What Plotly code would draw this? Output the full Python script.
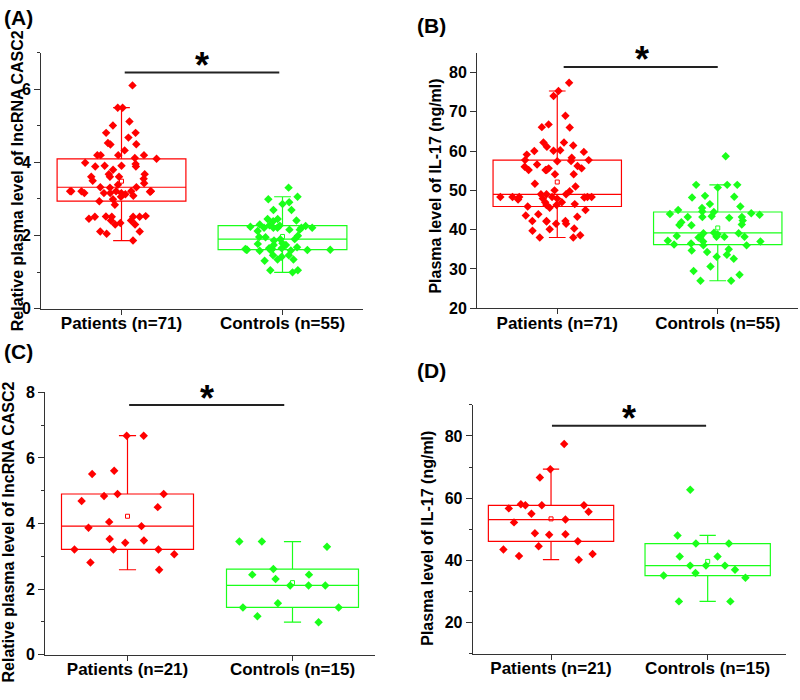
import numpy as np
import plotly.graph_objects as go

# ---------------- data ----------------
cats_AB = ["Patients (n=71)", "Controls (n=55)"]
cats_CD = ["Patients (n=21)", "Controls (n=15)"]

casc2_patients_A = [6.11, 5.50, 5.50, 5.12, 5.01, 4.81, 4.81, 4.68, 4.53, 4.50,
                    4.49, 4.33, 4.20, 4.20, 4.20, 4.20, 4.10, 4.12, 3.96, 3.91,
                    3.91, 3.99, 3.89, 3.80, 3.89, 3.68, 3.61, 3.55, 3.50, 3.61,
                    3.61, 3.68, 3.43, 3.39, 3.06, 3.21, 3.21, 3.13, 3.21, 3.16,
                    3.16, 3.16, 3.21, 3.16, 3.32, 3.21, 3.21, 3.21, 3.32, 3.09,
                    3.31, 2.99, 2.84, 2.94, 2.51, 2.52, 2.51, 2.53, 2.51, 2.51,
                    2.46, 2.41, 2.41, 2.34, 2.30, 2.30, 2.05, 2.11, 2.11, 1.86,
                    3.20]
casc2_controls_A = [3.31, 3.06, 2.99, 2.91, 2.86, 2.70, 2.70, 2.45, 2.45,
                    2.41, 2.39, 2.30, 2.28, 2.27, 2.26, 2.24, 2.21, 2.21, 2.21,
                    2.21, 2.21, 2.16, 2.16, 2.12,
                    1.99, 1.96, 1.95, 1.90, 1.90, 1.86, 1.79, 1.77,
                    1.74, 1.68, 1.65, 1.63, 1.61, 1.61, 1.61, 1.59, 1.59, 1.58,
                    1.63, 1.65, 1.74, 1.60,
                    1.46, 1.46, 1.42, 1.34, 1.34, 1.31,
                    1.05, 1.05, 0.99]
il17_patients_B = [77.4, 75.3, 74.0, 69.0, 66.8, 66.1, 66.0, 62.2, 62.2, 61.4,
                   61.1, 60.1, 59.1, 59.8, 60.0, 60.2,
                   57.4, 57.7, 57.7, 57.5, 58.3,
                   55.6, 56.0, 55.2, 55.2, 56.2, 55.2, 55.6, 56.6,
                   54.1, 54.1, 51.0, 51.7, 50.0,
                   49.8, 48.2, 49.0, 49.0, 47.0, 47.9, 46.3, 45.9,
                   47.9, 47.7, 46.5, 48.3, 48.3, 48.3, 48.3, 48.3, 48.3, 49.0,
                   45.0, 46.3, 47.0, 45.6, 43.6, 43.9, 43.3,
                   42.2, 42.2, 42.2, 41.5, 42.1, 41.5, 40.3,
                   38.6, 40.1, 38.0, 39.7, 38.0]
il17_controls_B = [58.7, 51.4, 50.7, 51.4, 51.4, 48.2, 48.4, 48.6, 46.5, 45.9,
                   45.0, 45.5, 44.6, 44.2, 44.0, 44.5, 43.2, 43.8, 42.3, 43.4,
                   41.9, 43.0, 43.2, 43.2, 41.2, 41.3, 41.1,
                   38.8, 38.0, 39.1, 38.2, 38.2, 38.2, 38.2, 38.4, 39.2, 39.1,
                   37.0, 36.0, 36.2, 37.2, 36.0, 37.0, 36.5,
                   35.0, 34.3, 34.7, 33.6, 32.6, 33.1,
                   30.6, 29.5, 28.5, 27.0, 27.0]
casc2_patients_C = [6.68, 6.68, 5.61, 5.51, 4.90, 4.90, 4.84, 4.69, 4.50, 4.05,
                    3.87, 3.92, 3.41, 3.48, 3.53, 3.21, 3.21, 3.21, 3.06, 2.81, 2.59]
casc2_controls_C = [3.29, 3.45, 3.45, 2.61, 2.44, 2.44, 2.31, 2.11, 2.11, 2.11,
                    1.57, 1.44, 1.44, 1.17, 0.99]
il17_patients_D = [77.4, 69.3, 66.6, 58.0, 57.7, 57.7, 57.7, 56.7, 55.0, 55.6,
                   53.1, 52.2, 48.4, 48.7, 48.2, 46.1, 44.5, 43.5, 42.0, 41.4, 40.2]
il17_controls_D = [62.7, 48.0, 45.4, 45.4, 41.2, 41.2, 38.3, 38.3, 38.3, 37.0,
                   35.9, 35.1, 34.4, 26.8, 26.8]

title_casc2 = "Relative plasma level of lncRNA CASC2"
title_il17 = "Plasma level of IL-17 (ng/ml)"

RED = "#ff0000"
GREEN = "#1aff1a"
AXC = "#333333"
FONT = "Liberation Sans, Arial, sans-serif"

fig = go.Figure()

panels = [
    # (axis suffix, categories, patients, controls, patients quartile method)
    ("", cats_AB, casc2_patients_A, casc2_controls_A, "exclusive"),
    ("2", cats_AB, il17_patients_B, il17_controls_B, "exclusive"),
    ("3", cats_CD, casc2_patients_C, casc2_controls_C, "exclusive"),
    ("4", cats_CD, il17_patients_D, il17_controls_D, "inclusive"),
]

for sfx, cats, pat, con, qm in panels:
    for cat, vals, col, q in [(cats[0], pat, RED, qm), (cats[1], con, GREEN, "exclusive")]:
        fig.add_trace(go.Box(
            x=[cat] * len(vals), y=vals,
            xaxis="x" + sfx, yaxis="y" + sfx,
            boxpoints="all", jitter=0.95, pointpos=0,
            quartilemethod=q,
            whiskerwidth=0.13,
            fillcolor="rgba(0,0,0,0)",
            line=dict(color=col, width=1.2),
            marker=dict(symbol="diamond", size=6.5, color=col, line=dict(width=0)),
            showlegend=False, hoverinfo="y",
        ))
        fig.add_trace(go.Scatter(
            x=[cat], y=[float(np.mean(vals))],
            xaxis="x" + sfx, yaxis="y" + sfx,
            mode="markers",
            marker=dict(symbol="square-open", size=4, color=col, line=dict(width=1, color=col)),
            showlegend=False, hoverinfo="skip",
        ))

W, H = 800, 700


def px_x(a, b):
    return [a / W, b / W]


def px_y(top, bottom):
    return [1 - bottom / H, 1 - top / H]


tickfont = dict(family=FONT, size=16, color="black", weight="bold")
catfont = dict(family=FONT, size=17, color="black", weight="bold")


def xax(dom, anchor, cats):
    return dict(domain=dom, anchor=anchor, type="category",
                categoryorder="array", categoryarray=cats, range=[-0.5, 1.5],
                showline=True, linecolor=AXC, linewidth=1, mirror=False,
                ticks="outside", ticklen=5, tickcolor=AXC, tickfont=catfont,
                ticklabelstandoff=-6,
                showgrid=False, zeroline=False, fixedrange=True)


def yax(dom, anchor, rng, dtick, minor):
    d = dict(domain=dom, anchor=anchor, range=rng, dtick=dtick, tick0=0,
             showline=True, linecolor=AXC, linewidth=1,
             ticks="outside", ticklen=6, tickcolor=AXC, tickfont=tickfont,
             showgrid=False, zeroline=False, fixedrange=True)
    if minor:
        d["minor"] = dict(dtick=minor, ticks="outside", ticklen=3, tickcolor=AXC, showgrid=False)
    return d


layout = dict(
    width=W, height=H, margin=dict(l=0, r=0, t=0, b=0, pad=0),
    autosize=False,
    paper_bgcolor="white", plot_bgcolor="white",
    boxmode="overlay", boxgap=0.2, boxgroupgap=0,
    showlegend=False,
    xaxis=xax(px_x(41, 363), "y", cats_AB),
    yaxis=yax(px_y(46, 308), "x", [0, 7], 2, 1),
    xaxis2=xax(px_x(477, 798), "y2", cats_AB),
    yaxis2=yax(px_y(46, 307.7), "x2", [20, 85], 10, None),
    xaxis3=xax(px_x(45, 375), "y3", cats_CD),
    yaxis3=yax(px_y(394, 662.7), "x3", [0, 8], 2, 1),
    xaxis4=xax(px_x(472.7, 786), "y4", cats_CD),
    yaxis4=yax(px_y(406.7, 661.7), "x4", [10, 90], 20, 10),
)
fig.update_layout(**layout)

# significance bars and asterisks
sig = [("", 0.02, 0.98, 6.46, 0.50, 6.65),
       ("2", 0.04, 1.00, 81.4, 0.53, 83.2),
       ("3", 0.01, 0.95, 7.62, 0.48, 7.82),
       ("4", 0.006, 0.99, 83.3, 0.50, 85.5)]
for sfx, x0, x1, yl, xs, ys in sig:
    fig.add_shape(type="line", xref="x" + sfx, yref="y" + sfx,
                  x0=x0, x1=x1, y0=yl, y1=yl, line=dict(color="#222222", width=2))
    fig.add_annotation(xref="x" + sfx, yref="y" + sfx, x=xs, y=ys, text="*",
                       showarrow=False, xanchor="center", yanchor="middle",
                       font=dict(family=FONT, size=36, color="black", weight="bold"))

# y-axis titles
for x, y, t in [(17.5, 177, title_casc2), (436, 183, title_il17),
                (8.5, 537, title_casc2), (428, 544, title_il17)]:
    fig.add_annotation(xref="paper", yref="paper", x=x / W, y=1 - y / H, text=t,
                       textangle=-90, showarrow=False, xanchor="center", yanchor="middle",
                       font=dict(family=FONT, size=16, color="black", weight="bold"))

# panel labels
for x, y, t in [(2, 10, "(A)"), (415, 17.5, "(B)"), (2, 352.5, "(C)"), (415, 371.5, "(D)")]:
    fig.add_annotation(xref="paper", yref="paper", x=x / W, y=1 - y / H, text=t,
                       showarrow=False, xanchor="left", yanchor="middle",
                       font=dict(family=FONT, size=21, color="black", weight="bold"))

# remove the default page margin so the 800x700 figure fills the window exactly
fig.write_html("out.html", config={"displayModeBar": False},
               post_script="document.body.style.margin='0';")
